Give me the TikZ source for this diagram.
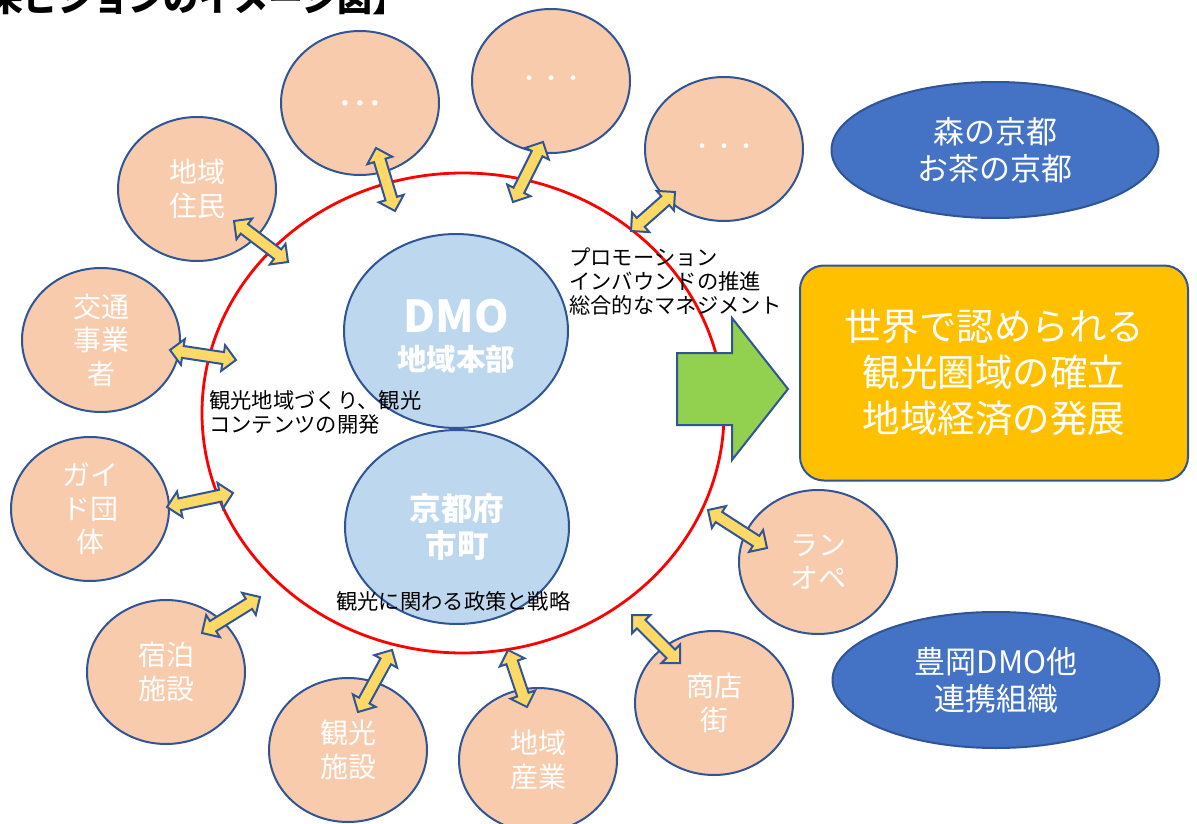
\documentclass[tikz,border=0pt]{standalone}
\usepackage{fontspec}
\setmainfont{Noto Sans CJK JP}
\usetikzlibrary{shapes.geometric,shapes.arrows,calc}
\definecolor{bord}{HTML}{2F5597}
\definecolor{salm}{HTML}{F8CBAD}
\definecolor{lblue}{HTML}{BDD7EE}
\definecolor{dblue}{HTML}{4472C4}
\definecolor{orng}{HTML}{FFC000}
\definecolor{grn}{HTML}{92D050}
\definecolor{ylw}{HTML}{FFD966}
\newcommand\fs[2]{\fontsize{#1}{#2}\selectfont}
\newcommand\dblarrow[2]{%
  \path let \p1=(#1), \p2=(#2), \n1={atan2(\y2-\y1,\x2-\x1)}, \n2={veclen(\x2-\x1,\y2-\y1)} in
    node[yarrow, rotate=\n1, minimum height=\n2] at ($(\p1)!0.5!(\p2)$) {};}
\tikzset{
  salmon/.style={ellipse, draw=bord, fill=salm, line width=2pt, minimum width=158pt, minimum height=144pt, inner sep=0pt, text=white, align=center, font=\fs{28}{33.5}},
  lbell/.style={ellipse, draw=bord, fill=lblue, line width=2pt, minimum width=224pt, minimum height=194pt, inner sep=0pt, text=white, align=center},
  dbell/.style={ellipse, draw=bord, fill=dblue, line width=2pt, minimum width=327pt, minimum height=136pt, inner sep=0pt, text=white, align=center, font=\fs{31}{37}},
  yarrow/.style={double arrow, draw=bord, fill=ylw, line width=2pt, inner xsep=0pt, inner ysep=5pt, minimum width=0pt, double arrow head extend=7pt},
  note/.style={anchor=west, align=left, text=black, inner sep=0pt, font=\fs{21.3}{24}},
}
\begin{document}
\begin{tikzpicture}[x=1pt,y=-1pt]
\useasboundingbox (0,0) rectangle (1197,824);
\clip (0,0) rectangle (1197,824);
\fill[white] (0,0) rectangle (1197,824);
% title
\node[anchor=base east, inner sep=0pt, font=\fs{35}{40}\bfseries] (title) at (408,12) {【将来ビジョンのイメージ図】};
% red ring
\draw[red, line width=2.8pt] (463,413) ellipse [x radius=261, y radius=240];
% central circles
\node[lbell] (dmo) at (456,331) {};
\node[font=\fs{44}{48}\bfseries, text=white, inner sep=0pt] (dmot) at (456,316) {DMO};
\node[font=\fs{29.5}{32}\bfseries, text=white, inner sep=0pt] (dmos) at (456,359) {地域本部};
\node[lbell, font=\fs{31.5}{37}\bfseries] (kyoto) at (457,527) {京都府\\市町};
% surrounding circles
\node[salmon] (c1) at (197,189) {地域\\住民};
\node[salmon, font=\fs{40}{44}] (c2) at (360,103) {…};
\node[salmon, font=\fs{22}{30}] (c3) at (551,81) {・・・};
\node[salmon, font=\fs{22}{30}] (c4) at (724,149) {・・・};
\node[salmon] (c5) at (101,340) {交通\\事業\\者};
\node[salmon] (c6) at (90,509) {ガイ\\ド団\\体};
\node[salmon] (c7) at (166,672) {宿泊\\施設};
\node[salmon] (c8) at (348,750) {観光\\施設};
\node[salmon] (c9) at (538,760) {地域\\産業};
\node[salmon] (c10) at (714,703) {商店\\街};
\node[salmon] (c11) at (818,562) {ラン\\オペ};
% right ellipses and box
\node[dbell] (mori) at (995,150) {森の京都\\お茶の京都};
\node[dbell] (toyo) at (996,680) {豊岡DMO他\\連携組織};
\node[draw=bord, fill=orng, line width=2pt, rounded corners=24pt, minimum width=388pt, minimum height=215pt, text=white, align=center, font=\fs{37.5}{46}] (goal) at (994,373) {世界で認められる\\観光圏域の確立\\地域経済の発展};
% green arrow
\draw[draw=bord, fill=grn, line width=2pt, line join=miter] (677,353) -- (732,353) -- (732,318) -- (788,389) -- (732,460) -- (732,425) -- (677,425) -- cycle;
% yellow double arrows
\coordinate (a1s) at (234,221); \coordinate (a1e) at (288,262);
\coordinate (a2s) at (376,148); \coordinate (a2e) at (395,211);
\coordinate (a3s) at (543,142); \coordinate (a3e) at (513,202);
\coordinate (a4s) at (675,192); \coordinate (a4e) at (631,231);
\coordinate (a5s) at (170,350); \coordinate (a5e) at (236,360);
\coordinate (a6s) at (167,507); \coordinate (a6e) at (233,493);
\coordinate (a7s) at (202,633); \coordinate (a7e) at (260,597);
\coordinate (a8s) at (358,712); \coordinate (a8e) at (392,650);
\coordinate (a9s) at (527,707); \coordinate (a9e) at (508,650);
\coordinate (a10s) at (680,663); \coordinate (a10e) at (632,615);
\coordinate (a11s) at (767,548); \coordinate (a11e) at (708,510);
\dblarrow{a1s}{a1e}
\dblarrow{a2s}{a2e}
\dblarrow{a3s}{a3e}
\dblarrow{a4s}{a4e}
\dblarrow{a5s}{a5e}
\dblarrow{a6s}{a6e}
\dblarrow{a7s}{a7e}
\dblarrow{a8s}{a8e}
\dblarrow{a9s}{a9e}
\dblarrow{a10s}{a10e}
\dblarrow{a11s}{a11e}
% notes
\node[note] (n1) at (569,282) {プロモーション\\インバウンドの推進\\総合的なマネジメント};
\node[note] (n2) at (209,412) {観光地域づくり、観光\\コンテンツの開発};
\node[note] (n3) at (336,601) {観光に関わる政策と戦略};
\end{tikzpicture}
\end{document}
